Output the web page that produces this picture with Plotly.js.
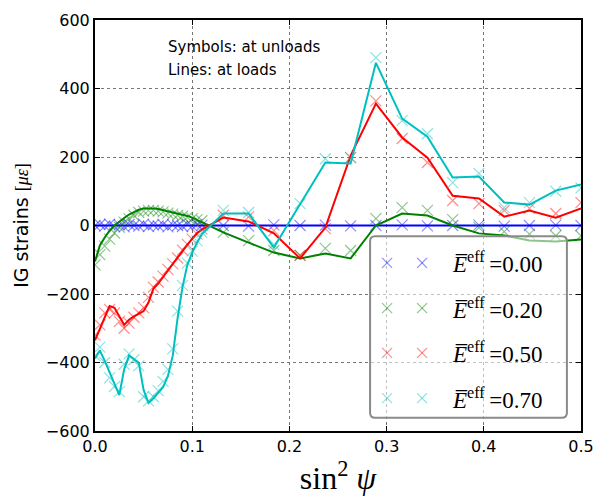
<!DOCTYPE html>
<html>
<head>
<meta charset="utf-8">
<script src="https://cdn.plot.ly/plotly-3.0.1.min.js"></script>
<style>
  html, body { margin: 0; padding: 0; background: #ffffff; }
  #chart { width: 596px; height: 496px; }
</style>
</head>
<body>
<div id="chart"></div>
<script>
// sin^2(psi) positions: dense low-angle scan, then the wider steps
const sin2psi = [
  0.000, 0.005, 0.010, 0.015, 0.020, 0.025, 0.030, 0.035, 0.040, 0.045,
  0.050, 0.055, 0.060, 0.065, 0.070, 0.075, 0.080, 0.085, 0.090, 0.095,
  0.100, 0.105, 0.110,
  0.132, 0.158, 0.184, 0.211, 0.237, 0.263, 0.289, 0.316, 0.342, 0.368,
  0.395, 0.421, 0.447, 0.474, 0.500
];

// Effective load levels
const eeffLevels = ['0.00', '0.20', '0.50', '0.70'];

// Strains measured at loads (micro-strain)
const load000 = [
  0, 0, 0, 0, 0, 0, 0, 0, 0, 0, 0, 0, 0, 0, 0, 0, 0, 0, 0, 0, 0, 0, 0,
  0, 0, 0, 0, 0, 0, 0, 0, 0, 0, 0, 0, 0, 0, 0
];
const load020 = [
  -105, -58, -35, -15, 0, 12, 22, 32, 40, 46,
  50, 51, 50, 48, 45, 42, 39, 36, 32, 28,
  23, 16, 10,
  -20, -50, -79, -96, -82, -96, 0, 35, 29, 0,
  -23, -29, -44, -47, -41
];
const load050 = [
  -335, -300, -265, -235, -240, -265, -290, -275, -265, -258,
  -250, -225, -185, -170, -150, -130, -110, -93, -75, -55,
  -38, -22, -12,
  23, 12, -23, -96, -6, 204, 356, 257, 198, 87,
  79, 26, 44, 23, 50
];
const load070 = [
  -388, -365, -395, -430, -465, -495, -420, -380, -390, -400,
  -480, -518, -505, -490, -472, -440, -380, -270, -180, -115,
  -79, -50, -25,
  35, 35, -64, 64, 184, 181, 475, 312, 259, 140,
  143, 67, 61, 102, 120
];

// Strains measured at unloads (micro-strain)
const unload000 = [
  0, 3, -2, 4, -3, 2, -4, 3, 0, -2, 4, -3, 2, -1, 3, -4, 2, 0, -3, 4, -2, 3, 1,
  0, -2, 2, 0, 1, -1, 0, 2, -1, 0, 1, -2, 0, 1, 0
];
const unload020 = [
  -115, -85, -60, -40, -22, -5, 10, 20, 30, 38,
  42, 44, 44, 42, 40, 36, 33, 30, 27, 24,
  20, 17, 14,
  -20, -44, -73, -87, -67, -73, 20, 52, 44, 17,
  -6, -18, -25, -30, -30
];
const unload050 = [
  -320, -290, -255, -245, -255, -280, -300, -285, -268, -255,
  -240, -210, -180, -165, -148, -128, -112, -95, -72, -55,
  -40, -25, -10,
  30, 25, -15, -87, -9, 198, 364, 254, 184, 73,
  64, 44, 50, 35, 67
];
const unload070 = [
  -380, -355, -400, -445, -470, -485, -405, -375, -392, -410,
  -500, -512, -500, -482, -455, -420, -360, -250, -175, -110,
  -75, -45, -20,
  44, 38, -55, 64, 195, 198, 490, 306, 268, 125,
  152, 52, 67, 100, 110
];

const yTicks = [-600, -400, -200, 0, 200, 400, 600];
const xTicks = [0.0, 0.1, 0.2, 0.3, 0.4, 0.5];

const series = [
  { load: load000, unload: unload000, line: '#0000ff', mark: 'rgba(0,0,255,0.45)' },
  { load: load020, unload: unload020, line: '#008000', mark: 'rgba(0,128,0,0.45)' },
  { load: load050, unload: unload050, line: '#ff0000', mark: 'rgba(255,0,0,0.45)' },
  { load: load070, unload: unload070, line: '#00bfbf', mark: 'rgba(0,191,191,0.45)' }
];

const traces = [];
series.forEach(s => {
  traces.push({
    x: sin2psi, y: s.unload, type: 'scatter', mode: 'markers',
    marker: { symbol: 'x-thin', size: 11, line: { color: s.mark, width: 1.2 } },
    hoverinfo: 'skip', showlegend: false
  });
  traces.push({
    x: sin2psi, y: s.load, type: 'scatter', mode: 'lines',
    line: { color: s.line, width: 2 },
    hoverinfo: 'skip', showlegend: false
  });
});

// Hand-built legend box (rounded, translucent) in paper coordinates
const plotW = 486, plotH = 411;
const px = v => v / plotW, py = v => v / plotH;
const box = { x0: 0.566, x1: 0.971, y0: 0.032, y1: 0.474 };
const rx = px(5), ry = py(5);
const boxPath =
  `M ${box.x0 + rx},${box.y0} L ${box.x1 - rx},${box.y0} Q ${box.x1},${box.y0} ${box.x1},${box.y0 + ry} ` +
  `L ${box.x1},${box.y1 - ry} Q ${box.x1},${box.y1} ${box.x1 - rx},${box.y1} ` +
  `L ${box.x0 + rx},${box.y1} Q ${box.x0},${box.y1} ${box.x0},${box.y1 - ry} ` +
  `L ${box.x0},${box.y0 + ry} Q ${box.x0},${box.y0} ${box.x0 + rx},${box.y0} Z`;

const shapes = [{
  type: 'path', path: boxPath, xref: 'paper', yref: 'paper', layer: 'above',
  fillcolor: 'rgba(255,255,255,0.55)', line: { color: '#8a8a8a', width: 2 }
}];
const annotations = [
  { text: 'Symbols: at unloads', x: px(71), y: 1 - py(27), xref: 'paper', yref: 'paper',
    xanchor: 'left', yanchor: 'middle', showarrow: false,
    font: { family: 'DejaVu Sans', size: 15, color: '#000' } },
  { text: 'Lines: at loads', x: px(71), y: 1 - py(50), xref: 'paper', yref: 'paper',
    xanchor: 'left', yanchor: 'middle', showarrow: false,
    font: { family: 'DejaVu Sans', size: 15, color: '#000' } }
];

const rowY = [0.409, 0.299, 0.190, 0.080];
const glyphX = [0.601, 0.673];
const half = 5;
series.forEach((s, i) => {
  glyphX.forEach(gx => {
    shapes.push({ type: 'line', xref: 'paper', yref: 'paper', layer: 'above',
      x0: gx - px(half), x1: gx + px(half), y0: rowY[i] - py(half), y1: rowY[i] + py(half),
      line: { color: s.mark, width: 1.2 } });
    shapes.push({ type: 'line', xref: 'paper', yref: 'paper', layer: 'above',
      x0: gx - px(half), x1: gx + px(half), y0: rowY[i] + py(half), y1: rowY[i] - py(half),
      line: { color: s.mark, width: 1.2 } });
  });
  annotations.push({
    text: '<i>E\u0305</i><sup>eff</sup>\u2009=' + eeffLevels[i],
    x: 0.924, y: rowY[i], xref: 'paper', yref: 'paper',
    xanchor: 'right', yanchor: 'middle', showarrow: false,
    font: { family: 'Liberation Serif', size: 23, color: '#000' }
  });
});

const layout = {
  width: 596, height: 496,
  margin: { l: 95, r: 15, t: 20, b: 65 },
  paper_bgcolor: '#ffffff', plot_bgcolor: '#ffffff',
  showlegend: false,
  xaxis: {
    range: [0, 0.5], tickvals: xTicks, ticktext: xTicks.map(v => v.toFixed(1)),
    ticks: 'inside', ticklen: 5, tickcolor: '#000', tickwidth: 1,
    showline: true, linecolor: '#000', linewidth: 2, mirror: 'ticks',
    showgrid: true, gridcolor: '#777', griddash: 'dot', gridwidth: 1,
    zeroline: false,
    tickfont: { family: 'DejaVu Sans', size: 16, color: '#000' },
    title: { text: 'sin<sup>2</sup> <i>ψ</i>', standoff: 4,
      font: { family: 'Liberation Serif', size: 32, color: '#000' } }
  },
  yaxis: {
    range: [-600, 600], tickvals: yTicks,
    ticks: 'inside', ticklen: 5, tickcolor: '#000', tickwidth: 1,
    showline: true, linecolor: '#000', linewidth: 2, mirror: 'ticks',
    showgrid: true, gridcolor: '#777', griddash: 'dot', gridwidth: 1,
    zeroline: false,
    tickfont: { family: 'DejaVu Sans', size: 16, color: '#000' },
    title: { text: 'IG strains <span style="font-family:Liberation Serif;font-size:18px">[<i>με</i>]</span>',
      standoff: 12, font: { family: 'DejaVu Sans', size: 19, color: '#000' } }
  },
  shapes: shapes,
  annotations: annotations
};

Plotly.newPlot('chart', traces, layout, { staticPlot: true, displayModeBar: false });
</script>
</body>
</html>
